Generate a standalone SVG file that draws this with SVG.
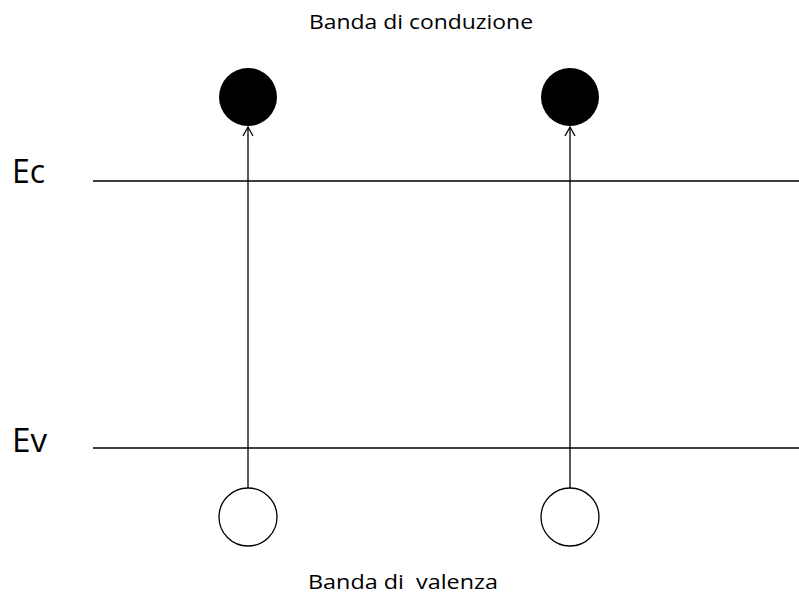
<svg xmlns="http://www.w3.org/2000/svg" width="799" height="596" viewBox="0 0 799 596">
<style>
.lvl{stroke:#000;stroke-width:1.3;fill:none}
.arr{stroke:#000;stroke-width:1.3;fill:none}
.lbl{font-family:"Open Sans","Liberation Sans",sans-serif;fill:#000}
</style>
<defs>
<marker id="ah" markerWidth="14" markerHeight="14" refX="10" refY="6" orient="auto" markerUnits="userSpaceOnUse">
<path d="M1,1 L10,6 L1,11" fill="none" stroke="#000" stroke-width="1.3"/>
</marker>
</defs>
<rect width="799" height="596" fill="#fff"/>
<g id="levels">
<line class="lvl" x1="93" y1="181" x2="799" y2="181"/>
<line class="lvl" x1="93" y1="448" x2="799" y2="448"/>
</g>
<g id="connectors">
<line class="arr" x1="248" y1="488" x2="248" y2="127" marker-end="url(#ah)"/>
<line class="arr" x1="570" y1="488" x2="570" y2="127" marker-end="url(#ah)"/>
</g>
<g id="electron1"><circle cx="248" cy="97" r="29" fill="#000"/></g>
<g id="electron2"><circle cx="570" cy="97" r="29" fill="#000"/></g>
<g id="hole1"><circle cx="248" cy="517" r="29" fill="#fff" stroke="#000" stroke-width="1.3"/></g>
<g id="hole2"><circle cx="570" cy="517" r="29" fill="#fff" stroke="#000" stroke-width="1.3"/></g>
<g id="labels">
<text class="lbl" x="12" y="183" font-size="32" textLength="33" lengthAdjust="spacingAndGlyphs">Ec</text>
<text class="lbl" x="12" y="452" font-size="33" textLength="35" lengthAdjust="spacingAndGlyphs">Ev</text>
<text class="lbl" x="309" y="29" font-size="20" textLength="224" lengthAdjust="spacingAndGlyphs">Banda di conduzione</text>
<text class="lbl" x="308" y="589" font-size="20" textLength="190" lengthAdjust="spacingAndGlyphs" xml:space="preserve">Banda di  valenza</text>
</g>
</svg>
